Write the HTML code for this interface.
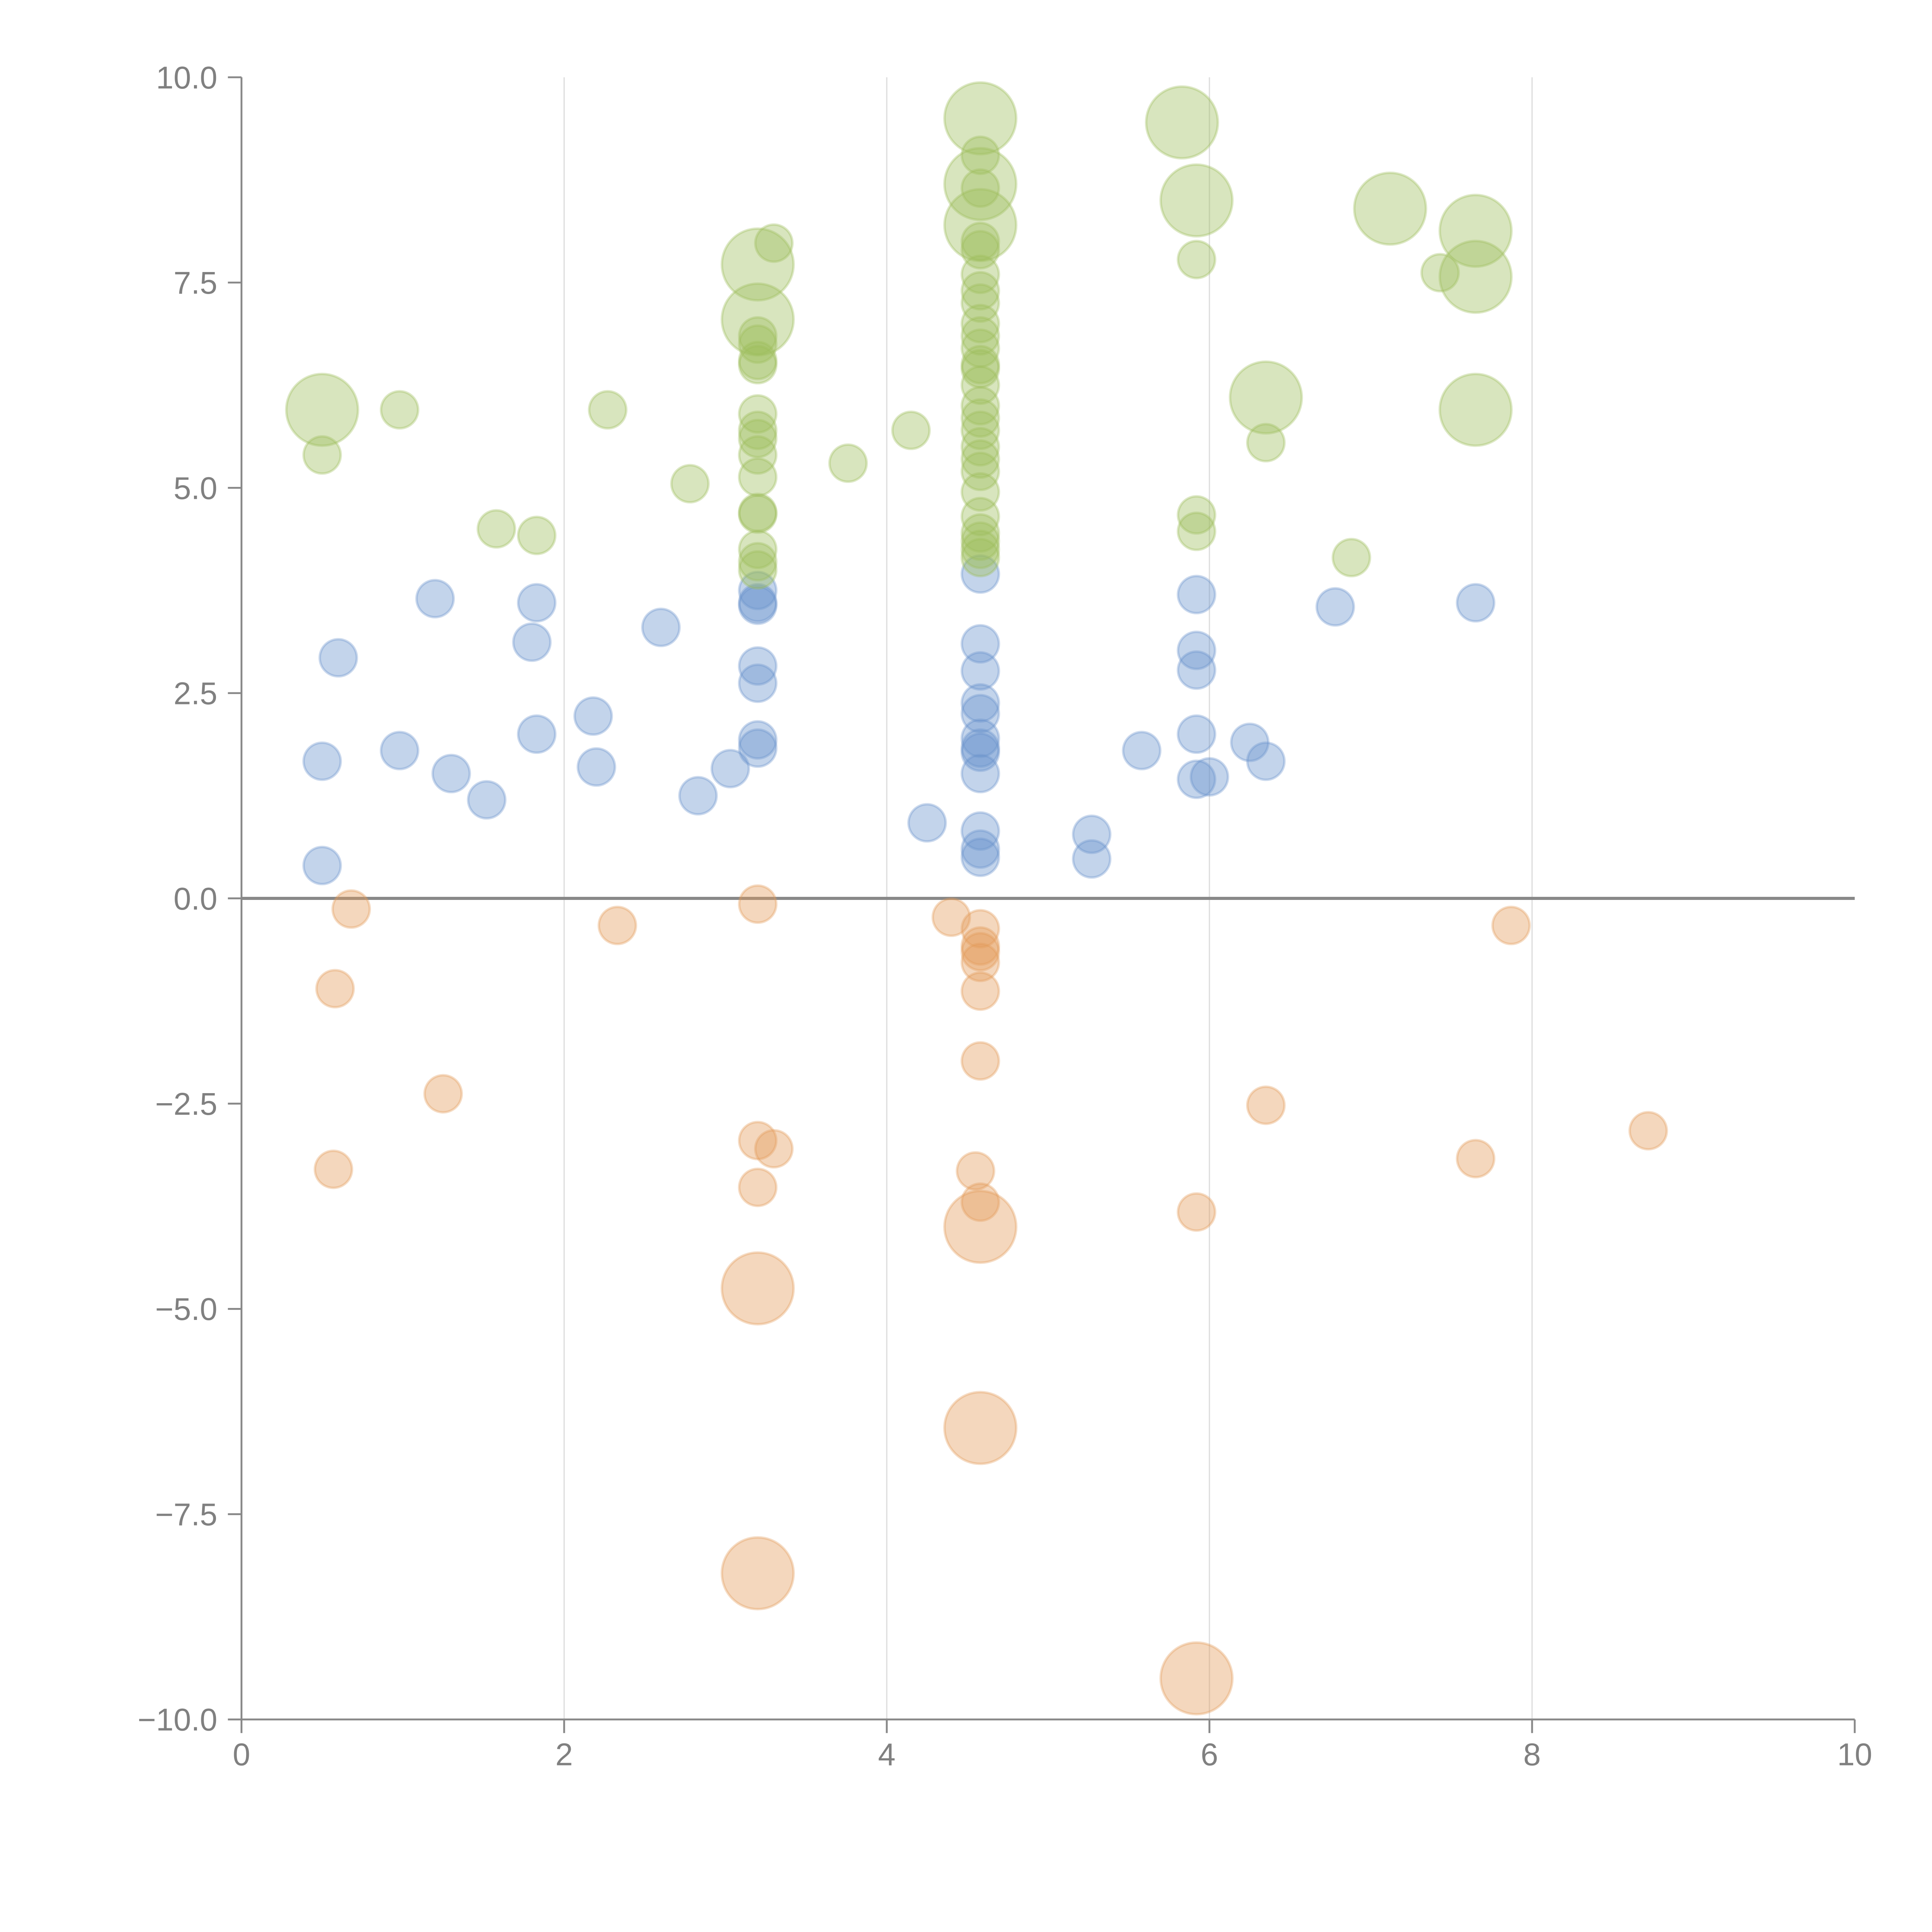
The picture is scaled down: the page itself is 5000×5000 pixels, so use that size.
<!DOCTYPE html>
<html><head><meta charset="utf-8"><style>
html,body{margin:0;padding:0;background:#fff;}
svg{display:block;}
text{font-family:"Liberation Sans",Arial,sans-serif;fill:#808080;}
</style></head><body>
<svg id="chart" width="5000" height="5000" viewBox="0 0 1562.5 1562.5" xmlns="http://www.w3.org/2000/svg">
<g id="grid"></g>
<g id="axes"></g>
<g id="marks"></g>
</svg>
<script>
const xTicks=[0,2,4,6,8,10];
const yTicks=[-10,-7.5,-5,-2.5,0,2.5,5,7.5,10];
const yTickLabels=["\u221210.0","\u22127.5","\u22125.0","\u22122.5","0.0","2.5","5.0","7.5","10.0"];
const xTickLabels=["0","2","4","6","8","10"];
// green series
const greenX=[0.5,0.5,0.98,1.58,1.83,2.27,2.78,3.2,3.2,3.3,3.2,3.2,3.2,3.2,3.2,3.2,3.2,3.2,3.2,3.2,3.2,3.2,3.2,3.2,3.76,4.15,4.58,4.58,4.58,4.58,4.58,4.58,4.58,4.58,4.58,4.58,4.58,4.58,4.58,4.58,4.58,4.58,4.58,4.58,4.58,4.58,4.58,4.58,4.58,4.58,4.58,4.58,4.58,4.58,5.83,5.92,5.92,5.92,5.92,6.35,6.35,6.88,7.12,7.43,7.65,7.65,7.65];
const greenY=[5.95,5.4,5.95,4.5,4.42,5.95,5.05,7.72,7.05,7.98,6.85,6.75,6.55,6.5,5.9,5.7,5.6,5.4,5.13,4.7,4.68,4.25,4.1,4.0,5.3,5.7,9.5,9.05,8.7,8.65,8.2,8.0,7.9,7.6,7.4,7.25,7.0,6.85,6.7,6.5,6.45,6.25,6.0,5.85,5.7,5.5,5.35,5.2,4.95,4.65,4.45,4.35,4.25,4.15,9.45,8.5,7.78,4.67,4.47,6.1,5.55,4.15,8.4,7.62,8.13,7.57,5.95];
const greenS=[2,1,1,1,1,1,1,2,2,1,1,1,1,1,1,1,1,1,1,1,1,1,1,1,1,1,2,1,2,1,2,1,1,1,1,1,1,1,1,1,1,1,1,1,1,1,1,1,1,1,1,1,1,1,2,2,1,1,1,2,1,1,2,1,2,2,2];
// blue series
const blueX=[0.5,0.5,0.6,0.98,1.2,1.3,1.52,1.8,1.83,1.83,2.18,2.2,2.6,2.83,3.03,3.2,3.2,3.2,3.2,3.2,3.2,3.2,4.25,4.58,4.58,4.58,4.58,4.58,4.58,4.58,4.58,4.58,4.58,4.58,4.58,5.27,5.27,5.58,5.92,5.92,5.92,5.92,5.92,6.0,6.25,6.35,6.78,7.65];
const blueY=[1.67,0.4,2.93,1.8,3.65,1.52,1.2,3.12,3.6,2.0,2.22,1.6,3.3,1.25,1.58,3.75,3.6,3.57,2.83,2.62,1.93,1.83,0.92,3.95,3.1,2.77,2.38,2.25,1.95,1.83,1.78,1.52,0.82,0.6,0.5,0.78,0.48,1.8,3.7,3.02,2.78,2.0,1.45,1.48,1.9,1.67,3.55,3.6];
// orange series
const orangeX=[0.68,0.58,1.25,0.57,2.33,3.2,3.2,3.3,3.2,3.2,3.2,4.4,4.58,4.58,4.58,4.58,4.58,4.58,4.55,4.58,4.58,4.58,5.92,5.92,6.35,7.65,7.87,8.72];
const orangeY=[-0.13,-1.1,-2.38,-3.3,-0.33,-0.07,-2.95,-3.05,-3.52,-4.75,-8.22,-0.23,-0.37,-0.58,-0.65,-0.78,-1.13,-1.98,-3.32,-3.7,-4.0,-6.45,-3.82,-9.5,-2.52,-3.17,-0.33,-2.83];
const orangeS=[1,1,1,1,1,1,1,1,1,2,2,1,1,1,1,1,1,1,1,1,2,2,1,2,1,1,1,1];

const NS="http://www.w3.org/2000/svg";
const X0=195.3,X1=1500,Y0=1390.6,Y1=62.5;
function sx(v){return X0+(v-0)/(10-0)*(X1-X0);}
function sy(v){return Y0-(v+10)/20*(Y0-Y1);}
function rad(s){return s===2?29:15;}
function mk(tag,attrs,parent){const e=document.createElementNS(NS,tag);for(const k in attrs)e.setAttribute(k,attrs[k]);parent.appendChild(e);return e;}
const grid=document.getElementById('grid'),axes=document.getElementById('axes'),marks=document.getElementById('marks');
xTicks.forEach((t,i)=>{
  if(t>0&&t<10){const l=mk('line',{x1:sx(t),x2:sx(t),y1:Y1,y2:Y0,stroke:'#ddd','stroke-width':1},grid);
    
    }
  const tk=mk('line',{x1:sx(t),x2:sx(t),y1:Y0,y2:Y0+11,stroke:'#888','stroke-width':1.5},axes);
  
  
  const tx=mk('text',{x:sx(t),y:Y0+37,'text-anchor':'middle','font-size':25.5},axes);
  tx.textContent=xTickLabels[i];
  
  
});
yTicks.forEach((t,i)=>{
  const tk=mk('line',{x1:X0-11,x2:X0,y1:sy(t),y2:sy(t),stroke:'#888','stroke-width':1.5},axes);
  
  
  const tx=mk('text',{x:X0-19.5,y:sy(t)+9,'text-anchor':'end','font-size':25.5},axes);
  tx.textContent=yTickLabels[i];
  
  
});
const ya=mk('line',{x1:X0,x2:X0,y1:Y1,y2:Y0,stroke:'#888','stroke-width':1.5},axes);


const xa=mk('line',{x1:X0,x2:X1,y1:Y0,y2:Y0,stroke:'#888','stroke-width':1.5},axes);


const zl=mk('line',{x1:X0,x2:X1,y1:sy(0),y2:sy(0),stroke:'#888','stroke-width':2.5},axes);


function series(xs,ys,ss,color,name){
  xs.forEach((x,i)=>{
    const c=mk('circle',{cx:sx(x),cy:sy(ys[i]),r:rad(ss?ss[i]:1),fill:color,'fill-opacity':0.4,stroke:color,'stroke-opacity':0.35,'stroke-width':2},marks);
    
    
  });
}
series(blueX,blueY,null,'#6a93cc','bubble-blue');
series(orangeX,orangeY,orangeS,'#e39a5a','bubble-orange');
series(greenX,greenY,greenS,'#9dbe5c','bubble-green');
</script>
</body></html>
